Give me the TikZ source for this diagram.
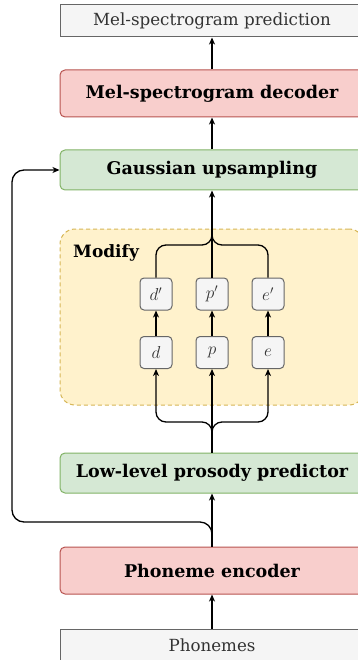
\documentclass[tikz,border=0pt]{standalone}
\usepackage{fontspec}
\setmainfont{DejaVu Serif}
\usetikzlibrary{arrows.meta}
\definecolor{grayfill}{HTML}{F5F5F5}
\definecolor{graydraw}{HTML}{666666}
\definecolor{graytext}{HTML}{333333}
\definecolor{redfill}{HTML}{F8CECC}
\definecolor{reddraw}{HTML}{B85450}
\definecolor{greenfill}{HTML}{D5E8D4}
\definecolor{greendraw}{HTML}{82B366}
\definecolor{yellowfill}{HTML}{FFF2CC}
\definecolor{yellowdraw}{HTML}{D6B656}
\tikzset{
  iobox/.style={draw=graydraw, fill=grayfill, text=graytext, line width=1pt, minimum width=304pt, minimum height=32pt, inner sep=0pt, font=\fontsize{16.7}{19}\selectfont},
  redbox/.style={draw=reddraw, fill=redfill, line width=1pt, rounded corners=5pt, minimum width=304pt, minimum height=47pt, inner sep=0pt, font=\fontsize{17.5}{20}\selectfont\bfseries},
  greenbox/.style={draw=greendraw, fill=greenfill, line width=1pt, rounded corners=5pt, minimum width=304pt, minimum height=40pt, inner sep=0pt, font=\fontsize{17.5}{20}\selectfont\bfseries},
  varbox/.style={draw=graydraw, fill=grayfill, text=graytext, line width=1pt, rounded corners=4pt, minimum width=32pt, minimum height=32pt, inner sep=0pt, font=\fontsize{18}{20}\selectfont},
  conn/.style={line width=1.3pt, -{Stealth[length=7pt,width=6pt,inset=2pt]}},
  plain/.style={line width=1.3pt},
}
\begin{document}
\begin{tikzpicture}[x=1pt,y=-1pt]
\clip (0,0) rectangle (358,660);
\fill[white] (0,0) rectangle (358,660);
% modify region
\node[draw=yellowdraw, fill=yellowfill, dashed, dash pattern=on 4pt off 3pt, line width=1pt, rounded corners=15pt, minimum width=304pt, minimum height=176pt, inner sep=0pt] (mod) at (212,317) {};
\node[anchor=west, inner sep=0pt, font=\fontsize{17}{19}\selectfont\bfseries] (modlabel) at (73,253) {Modify};
% main boxes
\node[iobox] (pred) at (212,21) {Mel-spectrogram prediction};
\node[redbox] (dec) at (212,93.5) {Mel-spectrogram decoder};
\node[greenbox] (gauss) at (212,170) {Gaussian upsampling};
\node[greenbox] (low) at (212,473) {Low-level prosody predictor};
\node[redbox] (enc) at (212,570.5) {Phoneme encoder};
\node[iobox] (phon) at (212,645) {Phonemes};
% variable boxes
\node[varbox] (d) at (156,352.5) {$d$};
\node[varbox] (p) at (212,352.5) {$p$};
\node[varbox] (e) at (268,352.5) {$e$};
\node[varbox] (d2) at (156,294) {$d'$};
\node[varbox] (p2) at (212,294) {$p'$};
\node[varbox] (e2) at (268,294) {$e'$};
\coordinate (topj) at (212,229);
\coordinate (botj) at (212,432);
\coordinate (split) at (212,522);
% connectors
\draw[conn] (phon.north) -- (enc.south);
\draw[conn] (enc.north) -- (low.south);
\draw[conn] (low.north) -- (p.south);
\draw[conn, rounded corners=10pt] (botj) -- (212,422) -| (d.south);
\draw[conn, rounded corners=10pt] (botj) -- (212,422) -| (e.south);
\draw[conn] (d.north) -- (d2.south);
\draw[conn] (p.north) -- (p2.south);
\draw[conn] (e.north) -- (e2.south);
\draw[conn] (p2.north) -- (gauss.south);
\draw[plain, rounded corners=10pt] (d2.north) |- (212,245) -- (topj);
\draw[plain, rounded corners=10pt] (e2.north) |- (212,245) -- (topj);
\draw[conn] (gauss.north) -- (dec.south);
\draw[conn] (dec.north) -- (pred.south);
\draw[conn, rounded corners=12pt] (212,540) -- (split) -- (12,522) -- (12,170) -- (gauss.west);
\end{tikzpicture}
\end{document}
